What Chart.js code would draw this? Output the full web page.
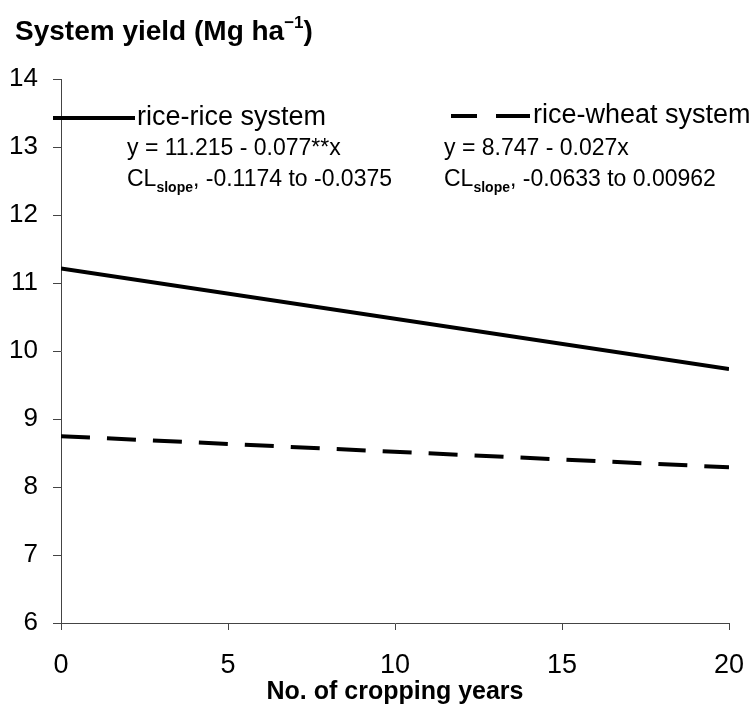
<!DOCTYPE html>
<html>
<head>
<meta charset="utf-8">
<script src="https://cdn.jsdelivr.net/npm/chart.js@4/dist/chart.umd.min.js"></script>
<style>
  html, body { margin: 0; padding: 0; background: #fff; }
  canvas { display: block; }
</style>
</head>
<body>
<canvas id="grafico_rendimiento" width="753" height="717"></canvas>
<script>
// Años de cultivo (extremos de cada recta de regresión)
const anios = [0, 20];
// Rendimiento del sistema (Mg/ha) en esos extremos
const arrozArroz = [11.215, 9.735];
const arrozTrigo = [8.747, 8.29];
// Marcas de los ejes
const ticksX = [0, 5, 10, 15, 20];
const ticksY = [6, 7, 8, 9, 10, 11, 12, 13, 14];

const fuente = 'Arial, "Liberation Sans", sans-serif';

function puntos(valores) {
  return anios.map((a, i) => ({ x: a, y: valores[i] }));
}

// Dibuja texto con un tramo en subíndice o superíndice
function textoCompuesto(ctx, partes, x, y) {
  partes.forEach((p) => {
    ctx.font = p.font;
    ctx.fillText(p.t, x, y + (p.dy || 0));
    x += ctx.measureText(p.t).width;
  });
}

// Títulos, leyenda y ecuaciones se pintan a mano sobre el canvas
const textos = {
  id: 'textos',
  afterDraw(chart) {
    const ctx = chart.ctx;
    const area = chart.chartArea;
    ctx.save();
    ctx.fillStyle = '#000';
    ctx.textBaseline = 'alphabetic';

    // título del eje y
    textoCompuesto(ctx, [
      { t: 'System yield (Mg ha', font: 'bold 28px ' + fuente },
      { t: '\u22121', font: 'bold 17px ' + fuente, dy: -12 },
      { t: ')', font: 'bold 28px ' + fuente },
    ], 15, 40);

    // título del eje x
    ctx.font = 'bold 25px ' + fuente;
    ctx.textAlign = 'center';
    ctx.fillText('No. of cropping years', (area.left + area.right) / 2, 699);
    ctx.textAlign = 'left';

    // leyenda: rice-rice (línea continua)
    ctx.strokeStyle = '#000';
    ctx.lineWidth = 4;
    ctx.beginPath();
    ctx.moveTo(53, 118);
    ctx.lineTo(135, 118);
    ctx.stroke();
    ctx.font = '27px ' + fuente;
    ctx.fillText('rice-rice system', 137, 125);

    // leyenda: rice-wheat (línea a trazos)
    ctx.beginPath();
    ctx.moveTo(451, 116);
    ctx.lineTo(477, 116);
    ctx.moveTo(496, 116);
    ctx.lineTo(530, 116);
    ctx.stroke();
    ctx.font = '27px ' + fuente;
    ctx.fillText('rice-wheat system', 533, 123);

    // ecuaciones y límites de confianza de la pendiente
    ctx.font = '23px ' + fuente;
    ctx.fillText('y = 11.215 - 0.077**x', 127, 155);
    ctx.fillText('y = 8.747 - 0.027x', 444, 155);
    textoCompuesto(ctx, [
      { t: 'CL', font: '23px ' + fuente },
      { t: 'slope', font: 'bold 14px ' + fuente, dy: 6 },
      { t: ', -0.1174 to -0.0375', font: '23px ' + fuente },
    ], 127, 186);
    textoCompuesto(ctx, [
      { t: 'CL', font: '23px ' + fuente },
      { t: 'slope', font: 'bold 14px ' + fuente, dy: 6 },
      { t: ', -0.0633 to 0.00962', font: '23px ' + fuente },
    ], 444, 186);

    ctx.restore();
  },
};

const grafica = new Chart(document.getElementById('grafico_rendimiento'), {
  type: 'scatter',
  data: {
    datasets: [
      {
        label: 'rice-rice system',
        data: puntos(arrozArroz),
        showLine: true,
        borderColor: '#000',
        borderWidth: 4,
        pointRadius: 0,
      },
      {
        label: 'rice-wheat system',
        data: puntos(arrozTrigo),
        showLine: true,
        borderColor: '#000',
        borderWidth: 4,
        borderDash: [29, 17],
        pointRadius: 0,
      },
    ],
  },
  options: {
    responsive: false,
    animation: false,
    devicePixelRatio: 1,
    layout: { padding: { top: 79, right: 24, left: 0, bottom: 0 } },
    plugins: {
      legend: { display: false },
      tooltip: { enabled: false },
    },
    scales: {
      x: {
        type: 'linear',
        min: 0,
        max: 20,
        afterBuildTicks: (eje) => { eje.ticks = ticksX.map((v) => ({ value: v })); },
        afterFit: (eje) => {
          eje.height = 94;
          eje.paddingLeft = 0;
          eje.paddingRight = 0;
        },
        ticks: { color: '#000', font: { family: fuente, size: 27 }, padding: 19, maxRotation: 0 },
        grid: { drawOnChartArea: false, tickLength: 7, color: '#444' },
        border: { color: '#444', width: 1 },
      },
      y: {
        min: 6,
        max: 14,
        afterBuildTicks: (eje) => { eje.ticks = ticksY.map((v) => ({ value: v })); },
        afterFit: (eje) => {
          eje.width = 61;
          eje.paddingTop = 0;
          eje.paddingBottom = 0;
        },
        ticks: { color: '#000', font: { family: fuente, size: 26 }, padding: 15 },
        grid: { drawOnChartArea: false, tickLength: 8, color: '#444' },
        border: { color: '#444', width: 1 },
      },
    },
  },
  plugins: [textos],
});
</script>
</body>
</html>
